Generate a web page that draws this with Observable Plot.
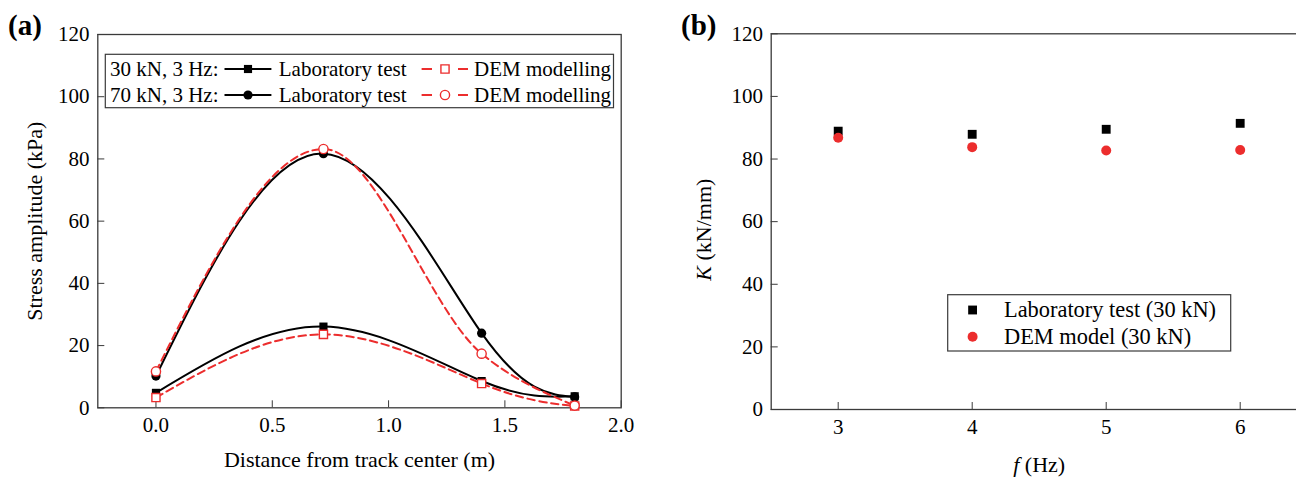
<!DOCTYPE html>
<html><head><meta charset="utf-8">
<script src="https://cdn.jsdelivr.net/npm/d3@7"></script>
<script src="https://cdn.jsdelivr.net/npm/@observablehq/plot@0.6"></script>
<style>
html,body{margin:0;padding:0;background:#fff;overflow:hidden;}
#wrap{position:relative;width:1296px;height:477px;overflow:hidden;font-family:"Liberation Serif","Times New Roman",serif;}
.panel{position:absolute;top:0;}
#overlay{position:absolute;left:0;top:0;pointer-events:none;}
</style></head><body><div id="wrap"></div>
<script>
// ---- Panel (a) data ----
const distance = [0, 0.72, 1.4, 1.8];
const lab30 = [4.8, 26.1, 8.6, 3.7];
const dem30 = [3.3, 23.6, 7.8, 0.6];
const lab70 = [10.2, 81.7, 24.0, 3.5];
const dem70 = [11.7, 83.2, 17.4, 0.7];
const xTicksA = [0, 0.5, 1.0, 1.5, 2.0];
const yTicks = [0, 20, 40, 60, 80, 100, 120];

// ---- Panel (b) data ----
const freq = [3, 4, 5, 6];
const labK = [88.9, 87.9, 89.5, 91.4];
const demK = [86.8, 83.8, 82.7, 82.9];

const RED = "#ec2d2d";
const FONT = '"Liberation Serif","Times New Roman",serif';
const AX = "#3a3a3a";
const FS = 21;
const rows = (xs, ys) => xs.map((x, i) => ({x, y: ys[i]}));

const wrap = document.getElementById("wrap");

const common = {fontFamily: FONT, fontSize: FS + "px", color: "#000", background: "transparent", overflow: "visible"};

const plotA = Plot.plot({
  width: 648, height: 477,
  marginLeft: 97.3, marginRight: 27.3, marginTop: 34, marginBottom: 69.7,
  style: common,
  x: {domain: [-0.25, 2.0], label: null},
  y: {domain: [0, 120], label: null},
  marks: [
    Plot.frame({stroke: AX, strokeWidth: 1.3}),
    Plot.axisX({ticks: xTicksA, tickSize: -7, tickPadding: 16.5, tickFormat: d3.format(".1f"), label: null, stroke: AX}),
    Plot.axisY({ticks: yTicks, tickSize: -7, tickPadding: 15.3, label: null, stroke: AX}),
    Plot.line(rows(distance, lab30), {x: "x", y: "y", curve: "natural", stroke: "#000", strokeWidth: 2}),
    Plot.line(rows(distance, lab70), {x: "x", y: "y", curve: "natural", stroke: "#000", strokeWidth: 2}),
    Plot.line(rows(distance, dem30), {x: "x", y: "y", curve: "natural", stroke: RED, strokeWidth: 2, strokeDasharray: "7.5,4.5"}),
    Plot.line(rows(distance, dem70), {x: "x", y: "y", curve: "monotone-x", stroke: RED, strokeWidth: 2, strokeDasharray: "7.5,4.5"}),
    Plot.dot(rows(distance, lab30), {x: "x", y: "y", symbol: "square", r: 4.6, fill: "#000"}),
    Plot.dot(rows(distance, lab70), {x: "x", y: "y", symbol: "circle", r: 4.6, fill: "#000"}),
    Plot.dot(rows(distance, dem30), {x: "x", y: "y", symbol: "square", r: 4.6, fill: "#fff", stroke: RED, strokeWidth: 1.4}),
    Plot.dot(rows(distance, dem70), {x: "x", y: "y", symbol: "circle", r: 4.6, fill: "#fff", stroke: RED, strokeWidth: 1.4}),
    Plot.text(["Distance from track center (m)"], {text: d => d, frameAnchor: "bottom", textAnchor: "middle", dy: 51.7, lineAnchor: "middle", fontSize: 22}),
    Plot.text(["Stress amplitude (kPa)"], {text: d => d, frameAnchor: "left", textAnchor: "middle", rotate: -90, dx: -63.3, lineAnchor: "middle", fontSize: 22})
  ]
});
plotA.classList.add("panel");
plotA.style.left = "0px";
wrap.appendChild(plotA);

const plotB = Plot.plot({
  width: 659, height: 477,
  marginLeft: 122.7, marginRight: 0.3, marginTop: 33.3, marginBottom: 68,
  style: common,
  x: {domain: [2.5, 6.5], label: null},
  y: {domain: [0, 120], label: null},
  marks: [
    Plot.frame({stroke: AX, strokeWidth: 1.3}),
    Plot.axisX({ticks: freq, tickSize: -7, tickPadding: 16.5, tickFormat: d3.format("d"), label: null, stroke: AX}),
    Plot.axisY({ticks: yTicks, tickSize: -7, tickPadding: 15.3, label: null, stroke: AX}),
    Plot.dot(rows(freq, labK), {x: "x", y: "y", symbol: "square", r: 5.0, fill: "#000"}),
    Plot.dot(rows(freq, demK), {x: "x", y: "y", symbol: "circle", r: 5.0, fill: RED}),
    Plot.text(["f (Hz)"], {text: d => d, frameAnchor: "bottom", textAnchor: "middle", dy: 55, lineAnchor: "middle", fontSize: 22}),
    Plot.text(["K (kN/mm)"], {text: d => d, frameAnchor: "left", textAnchor: "middle", rotate: -90, dx: -67, dy: 8, lineAnchor: "middle", fontSize: 22})
  ]
});
plotB.classList.add("panel");
plotB.style.left = "648px";
wrap.appendChild(plotB);

// italic variables in axis titles
d3.select(plotB).selectAll("text").each(function() {
  const t = this.textContent;
  if (t === "K (kN/mm)" || t === "f (Hz)") {
    const v = t[0], rest = t.slice(1);
    const sel = d3.select(this);
    sel.text(null);
    sel.append("tspan").attr("font-style", "italic").text(v);
    sel.append("tspan").text(rest);
  }
});

// ---- overlay: panel letters and legends ----
const ov = d3.select(wrap).append("svg").attr("id", "overlay")
  .attr("width", 1296).attr("height", 477)
  .style("font-family", FONT).style("font-size", FS + "px");

ov.append("text").attr("x", 8).attr("y", 35).attr("font-weight", "bold").attr("font-size", 29).text("(a)");
ov.append("text").attr("x", 681).attr("y", 35).attr("font-weight", "bold").attr("font-size", 29).text("(b)");

// legend (a)
const la = ov.append("g");
la.append("rect").attr("x", 105.3).attr("y", 54.3).attr("width", 508.2).attr("height", 53.4)
  .attr("fill", "#fff").attr("stroke", AX).attr("stroke-width", 1.2);
const legRowsA = [
  {label: "30 kN, 3 Hz:", y: 69, sym: d3.symbolSquare},
  {label: "70 kN, 3 Hz:", y: 95, sym: d3.symbolCircle}
];
const symPath = (sym, r) => d3.symbol(sym, Math.PI * r * r)();
legRowsA.forEach(row => {
  la.append("text").attr("x", 110).attr("y", row.y).attr("dy", "0.32em").text(row.label);
  la.append("line").attr("x1", 224.5).attr("x2", 271.4).attr("y1", row.y).attr("y2", row.y)
    .attr("stroke", "#000").attr("stroke-width", 2);
  la.append("path").attr("d", symPath(row.sym, 4.6)).attr("transform", `translate(248,${row.y})`).attr("fill", "#000");
  la.append("text").attr("x", 278.8).attr("y", row.y).attr("dy", "0.32em").text("Laboratory test");
  la.append("line").attr("x1", 421.6).attr("x2", 432).attr("y1", row.y).attr("y2", row.y)
    .attr("stroke", RED).attr("stroke-width", 2);
  la.append("line").attr("x1", 458).attr("x2", 468).attr("y1", row.y).attr("y2", row.y)
    .attr("stroke", RED).attr("stroke-width", 2);
  la.append("path").attr("d", symPath(row.sym, 4.6)).attr("transform", `translate(445,${row.y})`)
    .attr("fill", "#fff").attr("stroke", RED).attr("stroke-width", 1.4);
  la.append("text").attr("x", 474).attr("y", row.y).attr("dy", "0.32em").text("DEM modelling");
});

// legend (b)
const lb = ov.append("g").style("font-size", "22.4px");
lb.append("rect").attr("x", 947.7).attr("y", 294.7).attr("width", 283).attr("height", 56.3)
  .attr("fill", "#fff").attr("stroke", AX).attr("stroke-width", 1.2);
lb.append("path").attr("d", symPath(d3.symbolSquare, 5)).attr("transform", "translate(972.6,310)").attr("fill", "#000");
lb.append("text").attr("x", 1004).attr("y", 310).attr("dy", "0.32em").text("Laboratory test (30 kN)");
lb.append("path").attr("d", symPath(d3.symbolCircle, 5)).attr("transform", "translate(972.6,336.7)").attr("fill", RED);
lb.append("text").attr("x", 1004).attr("y", 336.7).attr("dy", "0.32em").text("DEM model (30 kN)");
</script></body></html>
